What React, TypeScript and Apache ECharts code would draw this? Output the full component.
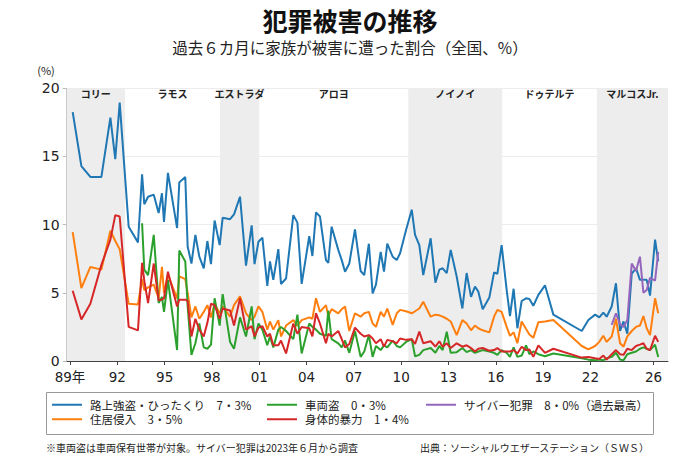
import React, { useEffect, useRef } from "react";
import * as echarts from "echarts";

// ---- data (survey dates as decimal years) ----
const surveyDates = [
  1989.17, 1989.72, 1990.29, 1990.99, 1991.56, 1991.87, 1992.15, 1992.72, 1993.31, 1993.57,
  1993.71, 1993.95, 1994.31, 1994.62, 1994.83, 1994.96, 1995.21, 1995.79, 1995.93, 1996.31,
  1996.46, 1996.7, 1996.95, 1997.2, 1997.48, 1997.71, 1997.94, 1998.17, 1998.49, 1998.68,
  1999.15, 1999.4, 1999.78, 2000.16, 2000.52, 2000.7, 2000.95, 2001.2, 2001.51, 2001.68,
  2001.89, 2002.21, 2002.38, 2002.7, 2003.16, 2003.42, 2003.69, 2004.17, 2004.37, 2004.6,
  2004.85, 2005.23, 2005.38, 2005.59, 2006.01, 2006.23, 2006.44, 2006.71, 2007.07, 2007.43,
  2007.66, 2007.95, 2008.19, 2008.4, 2008.7, 2008.91, 2009.12, 2009.46, 2009.72, 2009.93,
  2010.31, 2010.67, 2010.88, 2011.15, 2011.4, 2011.87, 2012.17, 2012.42, 2012.63, 2012.89,
  2013.14, 2013.52, 2013.88, 2014.15, 2014.43, 2014.68, 2014.89, 2015.17, 2015.59, 2015.89,
  2016.1, 2016.37, 2016.69, 2016.9, 2017.13, 2017.37, 2017.64, 2017.92, 2018.13, 2018.38,
  2018.7, 2019.12, 2019.65, 2021.45, 2021.87, 2022.3, 2022.56, 2022.82, 2023.03, 2023.35,
  2023.62, 2023.88, 2024.1, 2024.34, 2024.62, 2024.89, 2025.14, 2025.36, 2025.57, 2025.78,
  2026.1, 2026.3,
];

const streetRobbery = [
  18.25, 14.3, 13.5, 13.5, 17.85, 14.8, 18.95, 9.85, 8.7, 13.7,
  11.5, 12.05, 12.2, 10.85, 12.3, 10.2, 13.8, 9.75, 13.1, 13.5,
  8.4, 7.15, 9.25, 7.65, 6.8, 8.8, 7.1, 10.3, 8.5, 10.5,
  10.4, 10.75, 12.05, 7.0, 9.95, 7.1, 8.75, 9.05, 5.5, 7.3,
  5.95, 8.2, 5.65, 6.05, 10.7, 10.15, 5.65, 9.15, 7.7, 10.9,
  10.6, 7.4, 7.2, 9.85, 8.15, 7.4, 6.55, 7.15, 9.65, 6.6,
  6.3, 8.6, 4.95, 5.6, 8.0, 6.55, 8.6, 7.65, 7.4, 7.9,
  9.6, 11.1, 9.25, 8.5, 6.3, 9.0, 5.75, 6.7, 6.8, 6.45,
  8.15, 6.2, 3.85, 6.45, 4.7, 5.45, 5.1, 3.8, 4.65, 6.5,
  6.4, 8.5, 5.2, 3.3, 5.3, 2.4, 4.4, 4.6, 4.55, 4.05,
  4.85, 5.55, 3.4, 2.2, 3.0, 3.4, 3.2, 3.55, 3.25, 4.0,
  5.7, 2.2, 2.9, 2.0, 6.4, 6.8, 5.95, 5.95, 5.95, 4.8,
  8.9, 7.3,
];

const burglary = [
  9.45, 5.35, 6.9, 6.7, 9.55, 8.8, 8.2, 4.2, 4.15, 6.0,
  5.2, 5.4, 5.6, 4.6, 6.9, 5.0, 6.3, 4.6, 6.2, 6.0,
  5.0, 3.2, 4.0, 3.1, 3.6, 4.1, 3.2, 4.2, 3.5, 4.0,
  3.25, 4.1, 4.75, 3.5, 3.0, 3.25, 4.0, 3.6, 2.3, 2.9,
  2.3, 3.0, 1.8, 2.6, 3.0, 2.6, 3.0, 3.2, 3.1, 4.6,
  3.6, 4.1, 3.3, 3.8, 3.5, 3.8, 4.0, 2.2, 3.5, 3.25,
  3.5, 3.6, 2.75, 2.5, 3.6, 3.25, 3.85, 2.65, 3.5, 3.75,
  3.65, 3.5, 3.65, 3.85, 4.35, 3.25, 3.4, 3.35, 3.25, 3.1,
  2.9, 1.9, 3.0, 2.75, 2.25, 2.6, 2.4, 2.25, 2.1, 3.25,
  3.75, 3.6, 2.5, 1.85, 2.1, 1.3, 2.9, 2.35, 1.95, 1.7,
  2.85, 2.9, 3.0, 1.1, 0.85, 1.1, 1.4, 1.85, 1.4, 1.8,
  3.1, 1.3, 1.05, 1.8, 2.2, 2.5, 2.6, 3.3, 2.4, 1.9,
  4.6, 3.5,
];

const carTheft = [
  null, null, null, null, null, null, null, null, null, 10.1,
  6.7, 6.3, 9.25, 4.25, 4.7, 3.6, 5.95, 0.8, 8.1, 7.3,
  4.0, 0.45, 1.3, 2.75, 1.0, 0.9, 1.2, 4.6, 2.6, 4.9,
  1.4, 0.9, 3.2, 1.8, 4.0, 1.6, 2.75, 2.3, 1.15, 1.8,
  1.0, 2.3, 2.5, 2.2, 1.6, 3.4, 0.55, 2.75, 2.5, 2.3,
  2.0, 1.85, 3.7, 1.6, 1.3, 1.0, 1.5, 0.6, 2.2, 0.3,
  0.7, 1.9, 0.3, 1.1, 0.8, 1.15, 1.0, 1.5, 1.1, 1.0,
  1.4, 1.6, 0.35, 0.45, 0.8, 0.95, 0.6, 1.1, 0.8, 2.15,
  0.6, 0.65, 0.95, 0.65, 0.8, 0.6, 0.7, 0.8, 0.7, 0.6,
  0.45, 0.8, 0.6, 0.3, 1.0, 0.3, 0.4, 1.15, 0.5, 0.7,
  0.5, 0.35, 0.55, 0.2, 0.1, 0.05, 0.1, 0.05, 0.2, 0.3,
  0.6, 0.1, 0.05, 0.5, 0.6, 0.7, 0.9, 1.0, 0.9, 0.8,
  1.2, 0.3,
];

const violence = [
  5.15, 3.05, 4.2, 7.05, 8.9, 10.7, 10.6, 2.5, 2.25, 7.2,
  5.9, 4.25, 7.15, 4.45, 4.5, 4.6, 6.55, 4.0, 4.5, 4.5,
  4.4, 1.8, 3.1, 2.3, 1.8, 2.8, 4.2, 4.1, 3.1, 3.85,
  3.7, 2.6, 4.6, 2.3, 2.55, 1.8, 2.45, 2.55, 1.8, 2.0,
  1.15, 1.15, 1.5, 0.55, 2.75, 2.0, 2.5, 2.4, 1.8, 3.5,
  2.75, 1.3, 2.0, 1.8, 2.2, 1.6, 1.0, 1.25, 2.45, 2.0,
  1.8, 1.9, 1.65, 1.3, 1.6, 1.05, 1.55, 1.45, 1.3, 1.65,
  1.55, 1.6, 1.25, 2.15, 1.3, 1.45, 1.05, 1.45, 1.05, 1.3,
  0.95, 1.3, 1.05, 1.15, 0.95, 0.7, 0.9, 0.95, 0.75, 0.8,
  0.95, 0.7, 0.7, 0.7, 0.8, 0.55, 1.05, 0.8, 0.85, 0.3,
  1.15, 0.6, 0.9, 0.25, 0.3, 0.2, 0.15, 0.4, 0.1, 0.5,
  0.8, 0.5, 0.45, 0.9, 0.8, 1.1, 1.2, 1.3, 0.9, 0.8,
  1.85, 1.4,
];

const cyberCrime = [
  ...Array(109).fill(null),
  2.65, 3.5, 2.7, 2.5, 3.0, 7.15, 6.6, 7.65, 5.0, 5.2, 6.1, 5.9, 8.0,
];

const seriesNames = ["路上強盗・ひったくり", "住居侵入", "車両盗", "身体的暴力", "サイバー犯罪"];
const seriesValues = [streetRobbery, burglary, carTheft, violence, cyberCrime];
const seriesColors = ["#1f77b4", "#ff7f0e", "#2ca02c", "#d62728", "#9467bd"];

const xTickYears = [1989, 1992, 1995, 1998, 2001, 2004, 2007, 2010, 2013, 2016, 2019, 2022, 2026];

const presidents = ["コリー", "ラモス", "エストラダ", "アロヨ", "ノイノイ", "ドゥテルテ", "マルコスJr."];
const termStart = [1988.79, 1992.49, 1998.51, 2001.0, 2010.45, 2016.41, 2022.41];
const termEnd = [1992.49, 1998.51, 2001.0, 2010.45, 2016.41, 2022.41, 2026.92];
const termShaded = [true, false, true, false, true, false, true];

const FONT = '"Noto Sans CJK JP", "Noto Sans", sans-serif';
const NUM_FONT = '"DejaVu Sans", "Noto Sans CJK JP", sans-serif';

function fmtDec(v: number) {
  return v.toFixed(1).replace(".", "・") + "%";
}

export default function App() {
  const ref = useRef<HTMLDivElement>(null);

  useEffect(() => {
    if (!ref.current) return;
    const chart = echarts.init(ref.current, null, { renderer: "svg" });

    const legendFormatter = (name: string) => {
      const idx = seriesNames.indexOf(name);
      const vals = (seriesValues[idx] as (number | null)[]).filter((v) => v != null) as number[];
      const last = vals[vals.length - 1];
      const max = Math.max(...vals);
      return name + "\u3000" + fmtDec(last) + (last >= max ? "（過去最高）" : "");
    };

    const legendCommon = {
      orient: "vertical" as const,
      icon: "rect",
      itemWidth: 30,
      itemHeight: 2,
      itemGap: 3,
      top: 399,
      padding: 0,
      selectedMode: false,
      formatter: legendFormatter,
      textStyle: { fontSize: 11.5, color: "#222", fontFamily: FONT, padding: [0, 0, 0, 3] },
    };

    const lineSeries = seriesNames.map((name, i) => ({
      name,
      type: "line",
      data: surveyDates
        .map((d, j) => [d, seriesValues[i][j]])
        .filter((p) => p[1] != null),
      showSymbol: false,
      symbol: "none",
      lineStyle: { width: 2, color: seriesColors[i] },
      itemStyle: { color: seriesColors[i] },
      z: 3,
    }));

    const option = {
      animation: false,
      textStyle: { fontFamily: FONT },
      grid: { left: 66.7, right: 32, top: 88.3, bottom: 105 },
      xAxis: {
        type: "value",
        min: 1988.79,
        max: 2026.92,
        splitLine: { show: false },
        axisLine: { show: true, lineStyle: { color: "#444", width: 1 } },
        axisTick: { show: true, customValues: xTickYears, length: 4, lineStyle: { color: "#444" } },
        axisLabel: {
          customValues: xTickYears,
          fontSize: 13.5,
          color: "#222",
          margin: 9,
          lineHeight: 14,
          fontFamily: NUM_FONT,
          formatter: (v: number) => {
            const s = String(Math.round(v) % 100).padStart(2, "0");
            return Math.round(v) === xTickYears[0] ? s + "年" : s;
          },
        },
      },
      yAxis: {
        type: "value",
        min: 0,
        max: 20,
        interval: 5,
        axisLine: { show: true, lineStyle: { color: "#bbb" } },
        axisTick: { show: true, length: 4, lineStyle: { color: "#bbb" } },
        axisLabel: { fontSize: 14, color: "#222", margin: 7, fontFamily: NUM_FONT, lineHeight: 12 },
        splitLine: { show: true, lineStyle: { color: "#ececec", width: 1 } },
      },
      legend: [
        { ...legendCommon, left: 52, data: [seriesNames[0], seriesNames[1]] },
        { ...legendCommon, left: 267, data: [seriesNames[2], seriesNames[3]] },
        { ...legendCommon, left: 426, data: [seriesNames[4]] },
      ],
      series: [
        {
          type: "line",
          data: [],
          silent: true,
          z: 1,
          markArea: {
            silent: true,
            label: {
              show: true,
              position: "insideTop",
              distance: 0,
              offset: [0, 0],
              fontSize: 10,
              fontWeight: "bold",
              color: "#222",
              fontFamily: FONT,
            },
            data: presidents.map((p, i) => [
              {
                name: p,
                xAxis: termStart[i],
                itemStyle: { color: termShaded[i] ? "#ededed" : "rgba(0,0,0,0)" },
              },
              { xAxis: termEnd[i] },
            ]),
          },
        },
        ...lineSeries,
      ],
      graphic: [
        {
          type: "text",
          x: 350,
          y: 20,
          style: {
            text: "犯罪被害の推移",
            fontSize: 25,
            fontWeight: "bold",
            fontFamily: FONT,
            fill: "#111",
            align: "center",
            verticalAlign: "middle",
          },
        },
        {
          type: "text",
          x: 350,
          y: 47,
          style: {
            text: "過去６カ月に家族が被害に遭った割合（全国、%）",
            fontSize: 15.5,
            fontFamily: FONT,
            fill: "#222",
            align: "center",
            verticalAlign: "middle",
          },
        },
        {
          type: "text",
          x: 46,
          y: 70,
          style: {
            text: "(%)",
            fontSize: 11,
            fontFamily: FONT,
            fill: "#222",
            align: "center",
            verticalAlign: "middle",
          },
        },
        {
          type: "rect",
          shape: { x: 46.5, y: 392.5, width: 607, height: 42 },
          style: { fill: "none", stroke: "#999", lineWidth: 1 },
        },
        {
          type: "text",
          x: 46,
          y: 447,
          style: {
            text: "※車両盗は車両保有世帯が対象。サイバー犯罪は2023年６月から調査",
            fontSize: 10,
            fontFamily: FONT,
            fill: "#222",
            align: "left",
            verticalAlign: "middle",
          },
        },
        {
          type: "text",
          x: 649,
          y: 447,
          style: {
            text: "出典：ソーシャルウエザーステーション（ＳＷＳ）",
            fontSize: 10,
            fontFamily: FONT,
            fill: "#222",
            align: "right",
            verticalAlign: "middle",
          },
        },
      ],
    };

    chart.setOption(option as any);
    return () => chart.dispose();
  }, []);

  return (
    <div
      ref={ref}
      style={{ position: "absolute", left: 0, top: 0, width: 700, height: 466, background: "#fff" }}
    />
  );
}
